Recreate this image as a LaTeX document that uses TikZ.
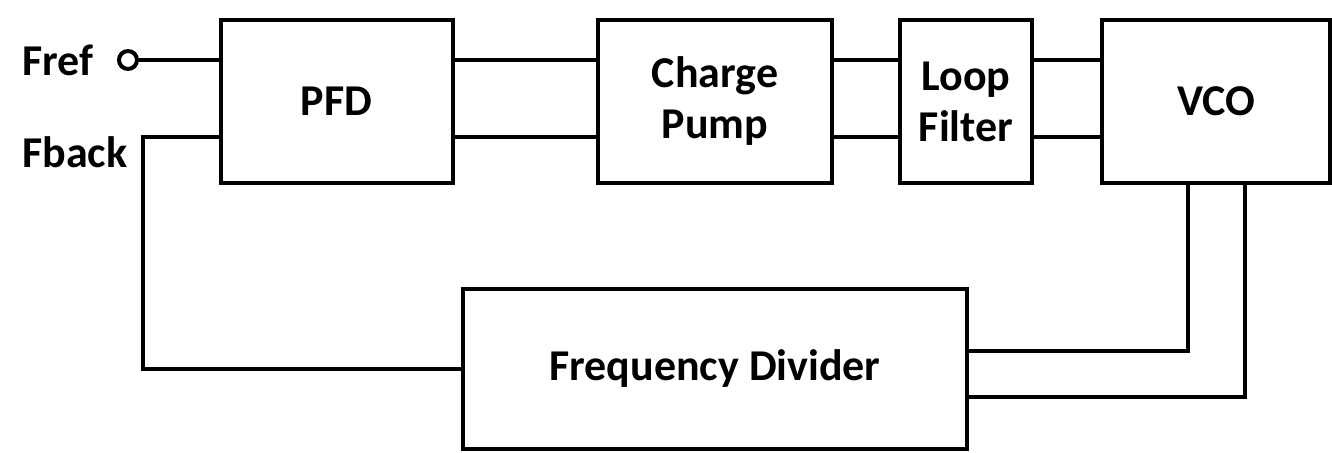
\documentclass[tikz,border=0pt]{standalone}
\usepackage{fontspec}
\setmainfont{Carlito}
\begin{document}
\begin{tikzpicture}[x=0.5pt,y=-0.5pt,
  blk/.style={draw, line width=2pt, inner sep=0pt, font=\bfseries\fontsize{22}{25.5}\selectfont, align=center},
  wire/.style={line width=2pt},
  lbl/.style={font=\bfseries\fontsize{22}{25.5}\selectfont, inner sep=0pt, anchor=west}]
\useasboundingbox (0,0) rectangle (1332,453);
\node[blk, minimum width=116pt, minimum height=81.5pt] (pfd) at (336.5,101.5) {PFD};
\node[blk, minimum width=117pt, minimum height=81.5pt] (cp) at (715,101.5) {Charge\\Pump};
\node[blk, minimum width=66pt, minimum height=81.5pt] (lf) at (966,101.5) {Loop\\Filter};
\node[blk, minimum width=114pt, minimum height=81.5pt] (vco) at (1216,101.5) {VCO};
\node[blk, minimum width=252pt, minimum height=80pt] (fd) at (715,369) {Frequency Divider};
\node[lbl] (fref) at (22,60) {Fref};
\node[lbl] (fback) at (22,152) {Fback};
\node[draw, circle, line width=2pt, minimum size=9pt, inner sep=0pt] (in) at (128,60) {};
\coordinate (r1) at (0,60);
\coordinate (r2) at (0,137);
\coordinate (fbk) at (143,137);
\coordinate (o1) at (1188,351);
\coordinate (o2) at (1245,397);
\draw[wire] (in.east) -- (pfd.west |- r1);
\draw[wire] (pfd.west |- r2) -- (fbk) |- (fd.west);
\draw[wire] (pfd.east |- r1) -- (cp.west |- r1);
\draw[wire] (pfd.east |- r2) -- (cp.west |- r2);
\draw[wire] (cp.east |- r1) -- (lf.west |- r1);
\draw[wire] (cp.east |- r2) -- (lf.west |- r2);
\draw[wire] (lf.east |- r1) -- (vco.west |- r1);
\draw[wire] (lf.east |- r2) -- (vco.west |- r2);
\draw[wire] (vco.south -| o1) -- (o1) -- (fd.east |- o1);
\draw[wire] (vco.south -| o2) -- (o2) -- (fd.east |- o2);
\end{tikzpicture}
\end{document}
